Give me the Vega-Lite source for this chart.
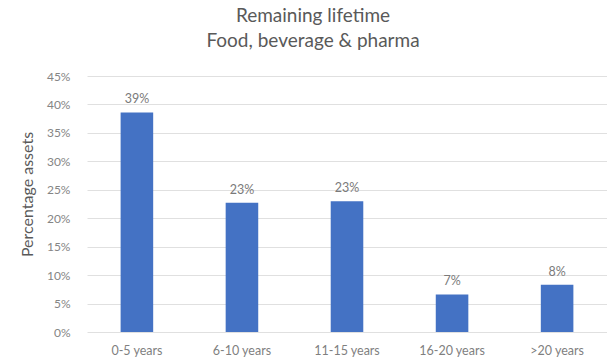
{
  "$schema": "https://vega.github.io/schema/vega-lite/v6.json",
  "autosize": {"type": "none"},
  "width": 520,
  "height": 256,
  "padding": {"left": 87, "top": 76, "right": 0, "bottom": 32},
  "background": "white",
  "title": {
    "text": ["Remaining lifetime", "Food, beverage & pharma"],
    "font": "Lato",
    "fontSize": 19,
    "fontWeight": "normal",
    "color": "#595959",
    "lineHeight": 25,
    "anchor": "middle",
    "dx": -34,
    "offset": 19
  },
  "data": {
    "values": [
      {"bucket": "0-5 years", "share": 0.386},
      {"bucket": "6-10 years", "share": 0.227},
      {"bucket": "11-15 years", "share": 0.23},
      {"bucket": "16-20 years", "share": 0.066},
      {"bucket": ">20 years", "share": 0.083}
    ]
  },
  "config": {
    "view": {"stroke": null},
    "font": "Lato"
  },
  "encoding": {
    "x": {
      "field": "bucket",
      "type": "nominal",
      "sort": null,
      "scale": {"paddingInner": 0.69, "paddingOuter": 0.32},
      "axis": {
        "title": null,
        "labelAngle": 0,
        "labelFontSize": 12.5,
        "labelColor": "#7f7f7f",
        "labelPadding": 12,
        "ticks": false,
        "domain": false
      }
    },
    "y": {
      "field": "share",
      "type": "quantitative",
      "scale": {"domain": [0, 0.45]},
      "axis": {
        "title": "Percentage assets",
        "titleFontSize": 16,
        "titleFontWeight": "normal",
        "titleColor": "#595959",
        "titleX": -60,
        "titleY": 118,
        "titleBaseline": "middle",
        "titleAlign": "center",
        "format": ".0%",
        "values": [0, 0.05, 0.1, 0.15, 0.2, 0.25, 0.3, 0.35, 0.4, 0.45],
        "labelFontSize": 12,
        "labelColor": "#858585",
        "labelPadding": 17,
        "ticks": false,
        "domain": false,
        "gridColor": "#e0e0e0",
        "gridWidth": 1
      }
    }
  },
  "layer": [
    {"mark": {"type": "bar", "color": "#4472c4"}},
    {
      "mark": {"type": "text", "baseline": "bottom", "dy": -6, "fontSize": 12.5, "color": "#7a7a7a"},
      "encoding": {"text": {"field": "share", "type": "quantitative", "format": ".0%"}}
    }
  ]
}
